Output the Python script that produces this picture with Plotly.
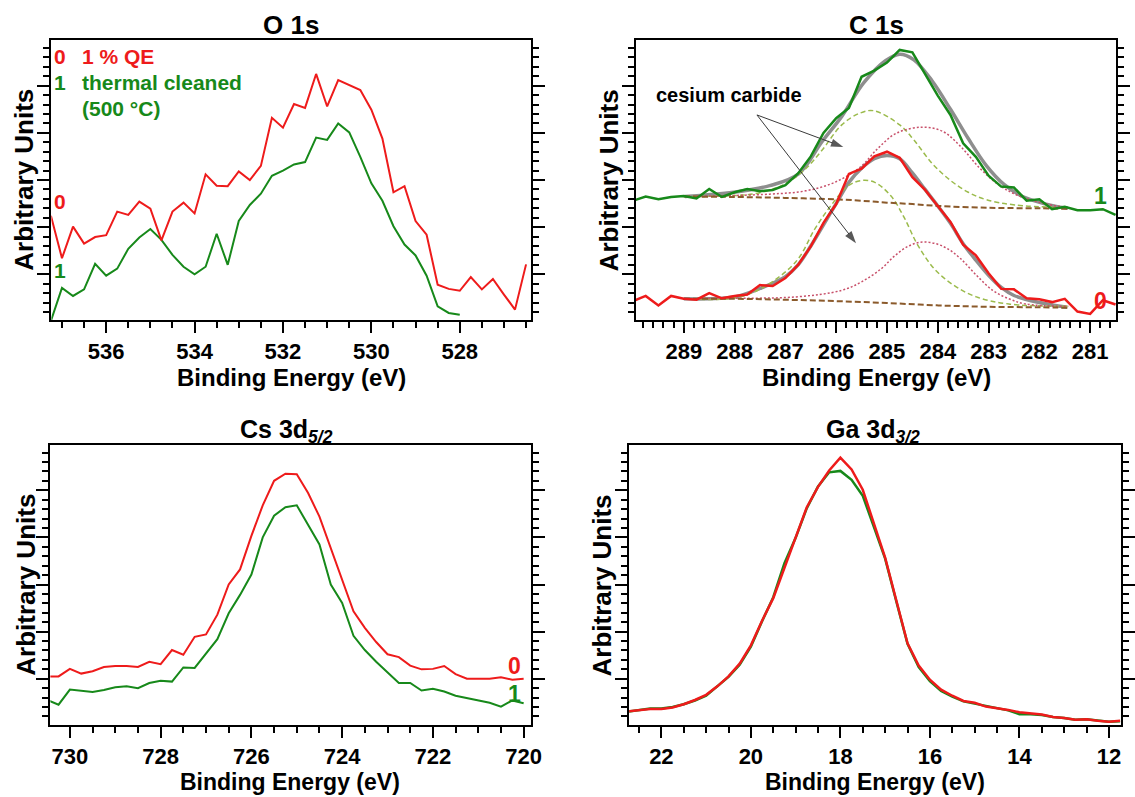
import plotly.graph_objects as go

FONT = "Liberation Sans, Arial, sans-serif"
RED = "#ee1b1b"
GREEN = "#17891a"
GREY = "#8e8e8e"
OLIVE = "#9bbb4c"
PINK = "#c8506a"
BROWN = "#8b5a2b"

# ---------------- O 1s ----------------
o1s_x0 = [537.25, 537.0, 536.75, 536.5, 536.25, 536.0, 535.75, 535.5, 535.25, 535.0,
          534.75, 534.5, 534.25, 534.0, 533.75, 533.5, 533.25, 533.0, 532.75, 532.5,
          532.25, 532.0, 531.75, 531.5, 531.25, 531.0, 530.75, 530.5, 530.25, 530.0,
          529.75, 529.5, 529.25, 529.0, 528.75, 528.5, 528.25, 528.0, 527.75, 527.5,
          527.25, 527.0, 526.75, 526.5]
o1s_y0 = [2.24, 1.34, 2.01, 1.65, 1.79, 1.83, 2.33, 2.26, 2.54, 2.39,
          1.72, 2.33, 2.52, 2.29, 3.12, 2.88, 2.87, 3.18, 3.00, 3.30,
          4.32, 4.11, 4.61, 4.53, 5.25, 4.56, 5.12, 5.01, 4.91, 4.49,
          3.88, 2.74, 2.87, 2.13, 1.84, 0.78, 0.69, 0.65, 0.94, 0.68,
          0.90, 0.57, 0.25, 1.21]
o1s_x1 = [537.25, 537.0, 536.75, 536.5, 536.25, 536.0, 535.75, 535.5, 535.25, 535.0,
          534.75, 534.5, 534.25, 534.0, 533.75, 533.5, 533.25, 533.0, 532.75, 532.5,
          532.25, 532.0, 531.75, 531.5, 531.25, 531.0, 530.75, 530.5, 530.25, 530.0,
          529.75, 529.5, 529.25, 529.0, 528.75, 528.5, 528.25, 528.0]
o1s_y1 = [0.01, 0.71, 0.54, 0.68, 1.22, 0.97, 1.12, 1.54, 1.78, 1.96,
          1.73, 1.41, 1.16, 1.00, 1.16, 1.86, 1.20, 2.13, 2.47, 2.71,
          3.09, 3.20, 3.33, 3.38, 3.90, 3.85, 4.20, 4.01, 3.49, 2.93,
          2.56, 2.02, 1.63, 1.40, 0.97, 0.32, 0.18, 0.14]

# ---------------- C 1s ----------------
c1s_x = [290.0, 289.75, 289.5, 289.25, 289.0, 288.75, 288.5, 288.25, 288.0, 287.75,
         287.5, 287.25, 287.0, 286.75, 286.5, 286.25, 286.0, 285.75, 285.5, 285.25,
         285.0, 284.75, 284.5, 284.25, 284.0, 283.75, 283.5, 283.25, 283.0, 282.75,
         282.5, 282.25, 282.0, 281.75, 281.5, 281.25, 281.0, 280.75, 280.5]
c1s_y1 = [2.56, 2.65, 2.59, 2.64, 2.66, 2.61, 2.81, 2.64, 2.74, 2.81,
          2.76, 2.79, 2.89, 3.14, 3.50, 4.00, 4.31, 4.53, 5.19, 5.32,
          5.49, 5.76, 5.71, 5.24, 4.79, 4.38, 3.78, 3.49, 3.09, 2.86,
          2.84, 2.56, 2.59, 2.38, 2.43, 2.36, 2.36, 2.38, 2.26]
c1s_y0 = [0.43, 0.54, 0.34, 0.54, 0.48, 0.46, 0.60, 0.49, 0.54, 0.57,
          0.77, 0.75, 0.92, 1.20, 1.59, 2.09, 2.49, 3.13, 3.24, 3.50,
          3.60, 3.47, 3.06, 2.79, 2.45, 2.11, 1.63, 1.40, 1.02, 0.69,
          0.68, 0.49, 0.47, 0.41, 0.48, 0.21, 0.16, 0.45, 0.36]

# fit of spectrum 1 (upper)
fit1_x = [288.98, 288.02, 287.31, 286.74, 286.28, 285.89, 285.46, 285.03, 284.75,
          284.47, 284.11, 283.75, 283.40, 283.04, 282.69, 282.33, 281.91, 281.44]
fit1_y = [2.65, 2.74, 2.88, 3.13, 3.81, 4.35, 5.06, 5.53, 5.67,
          5.55, 5.10, 4.50, 3.88, 3.30, 2.90, 2.65, 2.50, 2.40]
carb1_x = [289.0, 288.0, 287.5, 287.0, 286.6, 286.28, 285.89, 285.53, 285.26,
           284.75, 284.47, 284.11, 283.75, 283.40, 283.04, 282.48, 281.45]
carb1_y = [2.65, 2.67, 2.73, 2.92, 3.24, 3.63, 4.17, 4.42, 4.47,
           4.17, 3.85, 3.35, 2.99, 2.74, 2.58, 2.47, 2.41]
comp1_x = [288.98, 287.31, 286.60, 286.03, 285.53, 285.18, 284.82, 284.32,
           283.90, 283.54, 283.19, 282.83, 282.48, 281.98, 281.45]
comp1_y = [2.65, 2.70, 2.77, 2.95, 3.27, 3.67, 3.99, 4.12,
           4.03, 3.70, 3.27, 2.92, 2.70, 2.52, 2.41]
bg1_x = [289.0, 288.0, 287.0, 286.0, 285.5, 285.0, 284.5, 284.0, 283.0, 282.0, 281.45]
bg1_y = [2.65, 2.64, 2.62, 2.59, 2.56, 2.52, 2.49, 2.45, 2.41, 2.40, 2.39]

# fit of spectrum 0 (lower)
fit0_x = [289.0, 288.0, 287.5, 287.0, 286.75, 286.5, 286.25, 286.0, 285.75, 285.5,
          285.25, 285.0, 284.75, 284.5, 284.25, 284.0, 283.75, 283.5, 283.25, 283.0,
          282.75, 282.5, 282.0, 281.45]
fit0_y = [0.48, 0.52, 0.70, 0.95, 1.20, 1.60, 2.05, 2.50, 2.95, 3.25,
          3.45, 3.52, 3.45, 3.15, 2.80, 2.45, 2.08, 1.65, 1.30, 0.98,
          0.72, 0.55, 0.40, 0.30]
carb0_x = [289.0, 288.0, 287.44, 286.79, 286.41, 286.08, 285.76, 285.50, 285.24,
           284.92, 284.66, 284.40, 284.08, 283.69, 283.24, 282.60, 281.43]
carb0_y = [0.48, 0.50, 0.72, 1.27, 1.98, 2.49, 2.88, 2.99, 2.95,
           2.66, 2.20, 1.63, 1.13, 0.77, 0.52, 0.37, 0.32]
comp0_x = [289.0, 288.28, 286.79, 285.89, 285.50, 285.11, 284.86, 284.59, 284.34,
           284.08, 283.82, 283.56, 283.24, 282.92, 282.60, 282.27, 281.43]
comp0_y = [0.48, 0.49, 0.52, 0.66, 0.84, 1.12, 1.38, 1.59, 1.68,
           1.66, 1.55, 1.34, 0.98, 0.66, 0.48, 0.37, 0.32]
bg0_x = [289.0, 288.0, 287.0, 286.0, 285.0, 284.0, 283.0, 282.0, 281.45]
bg0_y = [0.48, 0.48, 0.46, 0.43, 0.39, 0.34, 0.31, 0.30, 0.29]

# annotation arrows (tail -> heads), "cesium carbide"
arrow_tail = (287.56, 4.38)
arrow_heads = [(285.86, 3.70), (285.61, 1.66)]

# ---------------- Cs 3d5/2 ----------------
cs_x = [730.5, 730.25, 730.0, 729.75, 729.5, 729.25, 729.0, 728.75, 728.5, 728.25,
        728.0, 727.75, 727.5, 727.25, 727.0, 726.75, 726.5, 726.25, 726.0, 725.75,
        725.5, 725.25, 725.0, 724.75, 724.5, 724.25, 724.0, 723.75, 723.5, 723.25,
        723.0, 722.75, 722.5, 722.25, 722.0, 721.75, 721.5, 721.25, 721.0, 720.75,
        720.5, 720.25, 720.0]
cs_y0 = [1.05, 1.05, 1.21, 1.11, 1.16, 1.25, 1.27, 1.27, 1.25, 1.36,
         1.31, 1.61, 1.51, 1.89, 1.94, 2.36, 3.00, 3.32, 4.03, 4.68,
         5.20, 5.35, 5.34, 4.94, 4.44, 3.78, 3.08, 2.43, 2.08, 1.78,
         1.52, 1.46, 1.28, 1.20, 1.21, 1.27, 1.10, 1.00, 1.00, 1.00,
         1.03, 0.98, 1.00]
cs_y1 = [0.55, 0.45, 0.77, 0.74, 0.72, 0.76, 0.82, 0.84, 0.80, 0.91,
         0.96, 0.94, 1.24, 1.23, 1.53, 1.84, 2.39, 2.78, 3.21, 4.00,
         4.46, 4.64, 4.68, 4.25, 3.85, 3.00, 2.61, 1.91, 1.61, 1.36,
         1.14, 0.91, 0.91, 0.75, 0.79, 0.73, 0.64, 0.59, 0.55, 0.49,
         0.41, 0.54, 0.48]

# ---------------- Ga 3d3/2 ----------------
ga_x = [22.75, 22.5, 22.25, 22.0, 21.75, 21.5, 21.25, 21.0, 20.75, 20.5,
        20.25, 20.0, 19.75, 19.5, 19.25, 19.0, 18.75, 18.5, 18.25, 18.0,
        17.75, 17.5, 17.25, 17.0, 16.75, 16.5, 16.25, 16.0, 15.75, 15.5,
        15.25, 15.0, 14.75, 14.5, 14.25, 14.0, 13.75, 13.5, 13.25, 13.0,
        12.75, 12.5, 12.25, 12.0, 11.75]
ga_y0 = [0.31, 0.34, 0.36, 0.36, 0.39, 0.46, 0.55, 0.66, 0.84, 1.05,
         1.32, 1.71, 2.23, 2.71, 3.35, 3.96, 4.64, 5.07, 5.42, 5.69,
         5.44, 5.01, 4.28, 3.57, 2.66, 1.75, 1.28, 0.98, 0.77, 0.64,
         0.53, 0.49, 0.41, 0.38, 0.34, 0.29, 0.26, 0.24, 0.19, 0.17,
         0.13, 0.14, 0.11, 0.09, 0.11]
ga_y1 = [0.30, 0.33, 0.37, 0.37, 0.40, 0.46, 0.54, 0.64, 0.84, 1.04,
         1.30, 1.68, 2.22, 2.73, 3.45, 3.99, 4.62, 5.08, 5.38, 5.41,
         5.22, 4.88, 4.22, 3.55, 2.64, 1.74, 1.25, 0.95, 0.74, 0.62,
         0.52, 0.47, 0.42, 0.37, 0.33, 0.25, 0.25, 0.23, 0.19, 0.17,
         0.13, 0.14, 0.11, 0.09, 0.10]

W, H = 1135, 797
fig = go.Figure()


def line(x, y, ax, color, width, dash="solid", shape="linear"):
    fig.add_trace(go.Scatter(x=x, y=y, xaxis=ax[0], yaxis=ax[1], mode="lines",
                             line=dict(color=color, width=width, dash=dash, shape=shape),
                             showlegend=False, hoverinfo="skip"))


# O 1s
line(o1s_x1, o1s_y1, ("x", "y"), GREEN, 2)
line(o1s_x0, o1s_y0, ("x", "y"), RED, 2)
# C 1s fits
for fx, fy in [(fit1_x, fit1_y), (fit0_x, fit0_y)]:
    line(fx, fy, ("x2", "y2"), GREY, 3.5, shape="spline")
for fx, fy in [(carb1_x, carb1_y), (carb0_x, carb0_y)]:
    line(fx, fy, ("x2", "y2"), OLIVE, 1.5, dash="5px,3px", shape="spline")
for fx, fy in [(comp1_x, comp1_y), (comp0_x, comp0_y)]:
    line(fx, fy, ("x2", "y2"), PINK, 1.5, dash="2px,2px", shape="spline")
for fx, fy in [(bg1_x, bg1_y), (bg0_x, bg0_y)]:
    line(fx, fy, ("x2", "y2"), BROWN, 2, dash="6px,3px", shape="spline")
line(c1s_x, c1s_y1, ("x2", "y2"), GREEN, 2.5)
line(c1s_x, c1s_y0, ("x2", "y2"), RED, 2.5)
# arrows
for hx, hy in arrow_heads:
    fig.add_trace(go.Scatter(
        x=[arrow_tail[0], hx], y=[arrow_tail[1], hy], xaxis="x2", yaxis="y2",
        mode="lines+markers", line=dict(color="#3a3a3a", width=1),
        marker=dict(symbol="arrow", size=[0, 13], angleref="previous",
                    color="#111111", line=dict(width=0)),
        showlegend=False, hoverinfo="skip"))
# Cs
line(cs_x, cs_y1, ("x3", "y3"), GREEN, 2)
line(cs_x, cs_y0, ("x3", "y3"), RED, 2)
# Ga
line(ga_x, ga_y1, ("x4", "y4"), GREEN, 2.5)
line(ga_x, ga_y0, ("x4", "y4"), RED, 2.5)


def px(v):
    return v / W


def py(v):
    return 1 - v / H


tickfont = dict(family=FONT, size=22, color="black", weight="bold")


def xaxis(dom, rng, dtick, mdtick, anchor):
    return dict(domain=dom, range=rng, anchor=anchor, showline=True, linecolor="black",
                linewidth=2, mirror=True, ticks="outside", ticklen=11, tickwidth=2,
                tickcolor="black", dtick=dtick, tick0=0,
                minor=dict(dtick=mdtick, tick0=0, ticks="outside", ticklen=6,
                           tickwidth=2, tickcolor="black", showgrid=False),
                showgrid=False, zeroline=False, tickfont=tickfont)


def yaxis(dom, anchor):
    return dict(domain=dom, range=[0.03, 5.97], anchor=anchor, showline=True,
                linecolor="black", linewidth=2, mirror="ticks", ticks="outside",
                ticklen=12, tickwidth=2, tickcolor="black", dtick=1, tick0=0,
                minor=dict(dtick=0.2, tick0=0, ticks="outside", ticklen=6,
                           tickwidth=2, tickcolor="black", showgrid=False),
                showgrid=False, zeroline=False, showticklabels=False)


top = [py(320), py(40)]
bot = [py(724.5), py(444.5)]

fig.update_layout(
    width=W, height=H, margin=dict(l=0, r=0, t=0, b=0),
    paper_bgcolor="white", plot_bgcolor="white", showlegend=False,
    xaxis=xaxis([px(52), px(538)], [537.24, 526.38], 2, 0.5, "y"),
    yaxis=yaxis(top, "x"),
    xaxis2=xaxis([px(644), px(1130)], [289.94, 280.49], 1, 0.2, "y2"),
    yaxis2=yaxis(top, "x2"),
    xaxis3=xaxis([px(51), px(538)], [730.43, 719.83], 2, 0.5, "y3"),
    yaxis3=yaxis(bot, "x3"),
    xaxis4=xaxis([px(637), 1.0], [22.72, 11.73], 2, 0.5, "y4"),
    yaxis4=yaxis(bot, "x4"),
)

ann = []


def text(x, y, s, size, color="black", xref="paper", yref="paper", angle=0,
         xanchor="center", yanchor="middle"):
    ann.append(dict(x=x, y=y, xref=xref, yref=yref, text=s, showarrow=False,
                    textangle=angle, xanchor=xanchor, yanchor=yanchor,
                    font=dict(family=FONT, size=size, color=color, weight="bold")))


# panel titles
text(px(295), py(25), "O 1s", 26)
text(px(887), py(25), "C 1s", 26)
text(px(290), py(431), "Cs 3d<sub><i>5/2</i></sub>", 25)
text(px(884), py(431), "Ga 3d<sub><i>3/2</i></sub>", 25)
# axis titles
for cx, cy in [(295, 393), (887, 393)]:
    text(px(cx), py(cy), "Binding Energy (eV)", 24, yanchor="bottom")
for cx, cy in [(294, 797), (886, 797)]:
    text(px(cx), py(cy), "Binding Energy (eV)", 23, yanchor="bottom")
for cx, cy in [(24, 180), (617, 180), (26, 585), (610, 585)]:
    text(px(cx), py(cy), "Arbitrary Units", 26, angle=-90)

# O 1s labels
text(537.04, 5.62, "0", 21, RED, "x", "y")
text(536.59, 5.62, "1 % QE", 21, RED, "x", "y", xanchor="left")
text(537.04, 5.07, "1", 21, GREEN, "x", "y")
text(536.59, 5.07, "thermal cleaned", 21, GREEN, "x", "y", xanchor="left")
text(536.59, 4.52, "(500 °C)", 21, GREEN, "x", "y", xanchor="left")
text(537.04, 2.55, "0", 21, RED, "x", "y")
text(537.04, 1.08, "1", 21, GREEN, "x", "y")

# C 1s labels
text(288.12, 4.80, "cesium carbide", 20, "black", "x2", "y2")
text(280.80, 2.66, "1", 23, GREEN, "x2", "y2")
text(280.80, 0.44, "0", 23, RED, "x2", "y2")

# Cs labels
text(720.20, 1.27, "0", 23, RED, "x3", "y3")
text(720.20, 0.68, "1", 23, GREEN, "x3", "y3")

fig.update_layout(annotations=ann)
fig.write_html("out.html")
